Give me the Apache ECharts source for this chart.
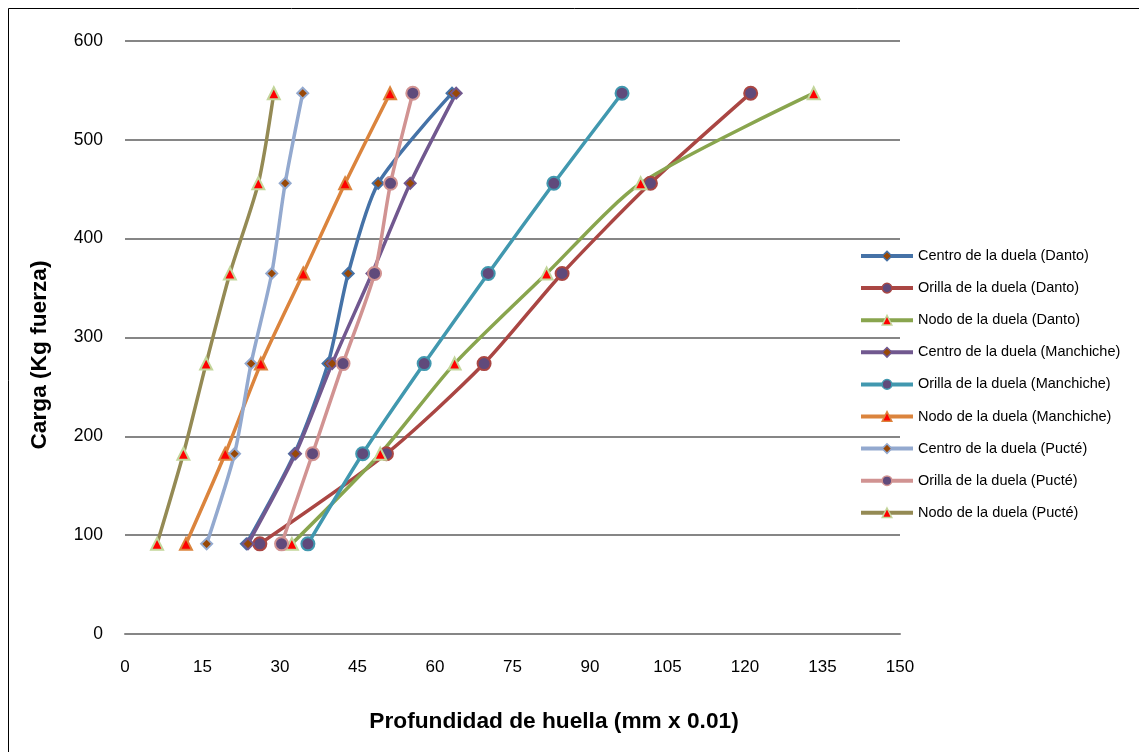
<!DOCTYPE html>
<html>
<head>
<meta charset="utf-8">
<script src="https://cdn.jsdelivr.net/npm/echarts@6/dist/echarts.min.js"></script>
<style>
  html, body { margin: 0; padding: 0; background: #fff; }
  #chart { width: 1139px; height: 752px; }
</style>
</head>
<body>
<div id="chart"></div>
<script>
// Carga aplicada (kg fuerza) en cada lectura
const cargas = [91.2, 182.4, 273.6, 364.8, 456.0, 547.2];

// Profundidad de huella (mm x 0.01) por posición y especie
const centroDanto      = [23.5, 32.8, 39.3, 43.2, 49.0, 63.3];
const orillaDanto      = [26.1, 50.6, 69.5, 84.6, 101.7, 121.1];
const nodoDanto        = [32.3, 49.4, 63.8, 81.6, 99.8, 133.3];
const centroManchiche  = [23.8, 33.0, 40.1, 47.8, 55.2, 64.1];
const orillaManchiche  = [35.4, 46.0, 57.9, 70.3, 83.0, 96.2];
const nodoManchiche    = [11.8, 19.4, 26.3, 34.5, 42.6, 51.3];
const centroPucte      = [15.8, 21.2, 24.4, 28.4, 31.0, 34.4];
const orillaPucte      = [30.3, 36.3, 42.2, 48.3, 51.4, 55.7];
const nodoPucte        = [6.2, 11.3, 15.7, 20.3, 25.8, 28.8];

const xTicks = { min: 0, max: 150, interval: 15 };
const yTicks = { min: 0, max: 600, interval: 100 };

const xTitle = 'Profundidad de huella (mm x 0.01)';
const yTitle = 'Carga (Kg fuerza)';

const seriesDefs = [
  { name: 'Centro de la duela (Danto)',      data: centroDanto,     color: '#4572A7', kind: 'centro' },
  { name: 'Orilla de la duela (Danto)',      data: orillaDanto,     color: '#AA4643', kind: 'orilla' },
  { name: 'Nodo de la duela (Danto)',        data: nodoDanto,       color: '#89A54E', kind: 'nodo', border: '#C3D69B' },
  { name: 'Centro de la duela (Manchiche)',  data: centroManchiche, color: '#71588F', kind: 'centro' },
  { name: 'Orilla de la duela (Manchiche)',  data: orillaManchiche, color: '#4198AF', kind: 'orilla' },
  { name: 'Nodo de la duela (Manchiche)',    data: nodoManchiche,   color: '#DB843D', kind: 'nodo', border: '#DB843D' },
  { name: 'Centro de la duela (Pucté)',      data: centroPucte,     color: '#93A9CF', kind: 'centro' },
  { name: 'Orilla de la duela (Pucté)',      data: orillaPucte,     color: '#D19392', kind: 'orilla' },
  { name: 'Nodo de la duela (Pucté)',        data: nodoPucte,       color: '#948A54', kind: 'nodo', border: '#C3D69B' }
];

const markerStyle = {
  centro: { symbol: 'diamond',  size: 11, fill: '#984807' },
  orilla: { symbol: 'circle',   size: 13, fill: '#604A7B' },
  nodo:   { symbol: 'triangle', size: 12, fill: '#FF0000' }
};

const series = seriesDefs.map(def => {
  const m = markerStyle[def.kind];
  return {
    name: def.name,
    type: 'line',
    smooth: 0.25,
    data: def.data.map((x, i) => [x, cargas[i]]),
    symbol: m.symbol,
    symbolSize: m.size,
    showAllSymbol: true,
    lineStyle: { color: def.color, width: 3.5 },
    itemStyle: { color: m.fill, borderColor: def.border || def.color, borderWidth: 2 },
    emphasis: { disabled: true },
    animation: false
  };
});

const titleFont = { fontSize: 22.7, fontWeight: 'bold', fontFamily: 'Liberation Sans, Arial, sans-serif', fill: '#000000' };

const chart = echarts.init(document.getElementById('chart'), null, { renderer: 'canvas' });
chart.setOption({
  backgroundColor: '#ffffff',
  animation: false,
  textStyle: { fontFamily: 'Liberation Sans, Arial, sans-serif' },
  graphic: [
    {
      type: 'rect',
      shape: { x: 8.5, y: 8.5, width: 1140, height: 760 },
      style: { fill: 'none', stroke: '#000000', lineWidth: 1 },
      silent: true,
      z: -1
    },
    {
      type: 'text',
      x: 554, y: 722,
      style: Object.assign({ text: xTitle, align: 'center', verticalAlign: 'middle' }, titleFont),
      silent: true
    },
    {
      type: 'text',
      x: 40, y: 355,
      rotation: Math.PI / 2,
      style: Object.assign({ text: yTitle, align: 'center', verticalAlign: 'middle' }, titleFont),
      silent: true
    }
  ],
  grid: { left: 125, right: 239, top: 41, bottom: 118 },
  legend: {
    orient: 'vertical',
    left: 859,
    top: 248,
    padding: 0,
    itemWidth: 52,
    itemHeight: 12,
    itemGap: 16.1,
    lineStyle: { width: 4 },
    itemStyle: { borderWidth: 1.5 },
    textStyle: { fontSize: 14.5, color: '#000000', fontFamily: 'Liberation Sans, Arial, sans-serif', height: 16, lineHeight: 16 },
    data: seriesDefs.map(d => d.name)
  },
  xAxis: {
    type: 'value',
    min: xTicks.min, max: xTicks.max, interval: xTicks.interval,
    axisLine: { show: true, lineStyle: { color: '#868686', width: 2 } },
    axisTick: { show: false },
    axisLabel: { fontSize: 17, color: '#000000', margin: 25 },
    splitLine: { show: false }
  },
  yAxis: {
    type: 'value',
    min: yTicks.min, max: yTicks.max, interval: yTicks.interval,
    axisLine: { show: false },
    axisTick: { show: false },
    axisLabel: { fontSize: 17.5, color: '#000000', margin: 22 },
    splitLine: { show: true, lineStyle: { color: '#868686', width: 2 } }
  },
  series: series
});
</script>
</body>
</html>
